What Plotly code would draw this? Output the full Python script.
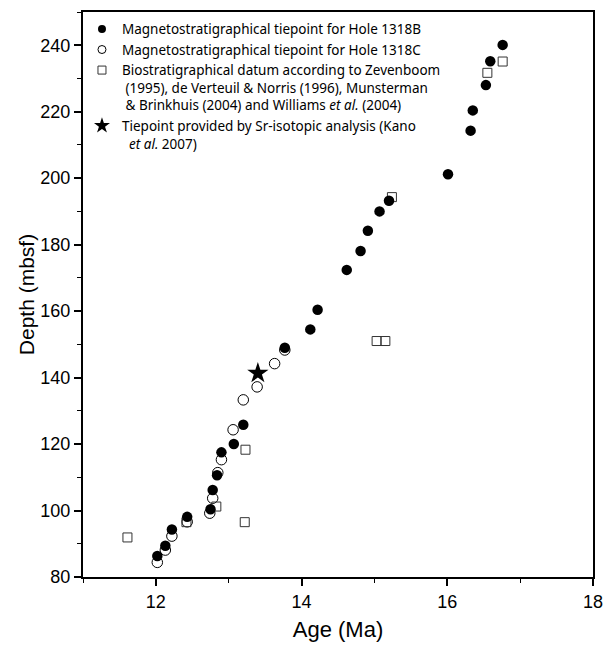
import plotly.graph_objects as go

# Magnetostratigraphical tiepoints, Hole 1318B (filled circles)
age_B = [12.02, 12.13, 12.22, 12.43, 12.75, 12.78, 12.84, 12.90, 13.07, 13.20, 13.77, 14.12,
         14.22, 14.62, 14.81, 14.91, 15.07, 15.20, 16.01, 16.32, 16.35, 16.53, 16.59, 16.76]
depth_B = [86.3, 89.4, 94.3, 98.1, 100.4, 106.2, 110.6, 117.5, 120.0, 125.8, 149.0, 154.5,
           160.4, 172.4, 178.1, 184.2, 190.0, 193.2, 201.2, 214.3, 220.4, 228.0, 235.2, 240.1]

# Magnetostratigraphical tiepoints, Hole 1318C (open circles)
age_C = [12.02, 12.13, 12.22, 12.43, 12.74, 12.78, 12.85, 12.90, 13.06, 13.20, 13.39, 13.63, 13.77]
depth_C = [84.4, 88.1, 92.3, 96.6, 99.2, 103.7, 111.4, 115.3, 124.3, 133.3, 137.2, 144.2, 148.3]

# Biostratigraphical datums (open squares)
age_bio = [11.61, 12.42, 12.83, 13.22, 13.23, 15.03, 15.15, 15.24, 16.55, 16.76]
depth_bio = [91.9, 96.5, 101.2, 96.5, 118.3, 151.0, 151.0, 194.3, 231.7, 235.1]

# Sr-isotopic tiepoint (star)
age_sr = [13.40]
depth_sr = [141.3]

x_ticks = [12, 14, 16, 18]
y_ticks = [80, 100, 120, 140, 160, 180, 200, 220, 240]

names = [
    "Magnetostratigraphical tiepoint for Hole 1318B",
    "Magnetostratigraphical tiepoint for Hole 1318C",
    "Biostratigraphical datum according to Zevenboom<br> (1995), de Verteuil & Norris (1996), Munsterman<br> & Brinkhuis (2004) and Williams <i>et al.</i> (2004)",
    "Tiepoint provided by Sr-isotopic analysis (Kano<br>  <i>et al.</i> 2007)",
]

fig = go.Figure()

fig.add_trace(go.Scatter(x=age_C, y=depth_C, mode="markers", showlegend=False,
                         marker=dict(symbol="circle-open", size=10.5, color="black",
                                     line=dict(width=1, color="black"))))
fig.add_trace(go.Scatter(x=age_bio, y=depth_bio, mode="markers", showlegend=False,
                         marker=dict(symbol="square-open", size=9, color="#333333",
                                     line=dict(width=1, color="#333333"))))
fig.add_trace(go.Scatter(x=age_B, y=depth_B, mode="markers", showlegend=False,
                         marker=dict(symbol="circle", size=10.5, color="black")))
fig.add_trace(go.Scatter(x=age_sr, y=depth_sr, mode="markers", showlegend=False,
                         marker=dict(symbol="star", size=16, color="black")))

# legend-only entries (smaller symbols as in the reference legend)
leg_styles = [
    dict(symbol="circle", size=8, color="black"),
    dict(symbol="circle-open", size=8, color="black", line=dict(width=1, color="black")),
    dict(symbol="square-open", size=8, color="#333333", line=dict(width=1, color="#333333")),
    dict(symbol="star", size=12, color="black"),
]
for nm, st in zip(names, leg_styles):
    fig.add_trace(go.Scatter(x=[None], y=[None], mode="markers", name=nm, marker=st))

axis_common = dict(showline=True, linecolor="black", linewidth=2, mirror=True,
                   ticks="outside", ticklen=7, tickwidth=1.5, tickcolor="black",
                   showgrid=False, zeroline=False,
                   tickfont=dict(family="Liberation Sans, Arial", size=18, color="black"))

fig.update_xaxes(range=[11, 18], tickvals=x_ticks,
                 minor=dict(dtick=1, ticks="outside", ticklen=4, tickwidth=1, tickcolor="black"),
                 title=dict(text="Age (Ma)", font=dict(family="Liberation Sans, Arial", size=22, color="black"),
                            standoff=11),
                 **axis_common)
fig.update_yaxes(range=[80, 250], tickvals=y_ticks,
                 minor=dict(dtick=10, ticks="outside", ticklen=4, tickwidth=1, tickcolor="black"),
                 title=dict(text="Depth (mbsf)", font=dict(family="Liberation Sans, Arial", size=21, color="black"),
                            standoff=0),
                 **axis_common)

fig.update_layout(
    width=613, height=648,
    margin=dict(l=83, r=20, t=10, b=63),
    plot_bgcolor="white", paper_bgcolor="white",
    legend=dict(x=-0.002, y=0.997, xanchor="left", yanchor="top", valign="top",
                bgcolor="rgba(0,0,0,0)", borderwidth=0,
                font=dict(family="Noto Sans", size=13.5, color="black"),
                tracegroupgap=0),
)

fig.write_html("out.html", config={"displayModeBar": False},
               post_script="document.body.style.margin='0px';")
